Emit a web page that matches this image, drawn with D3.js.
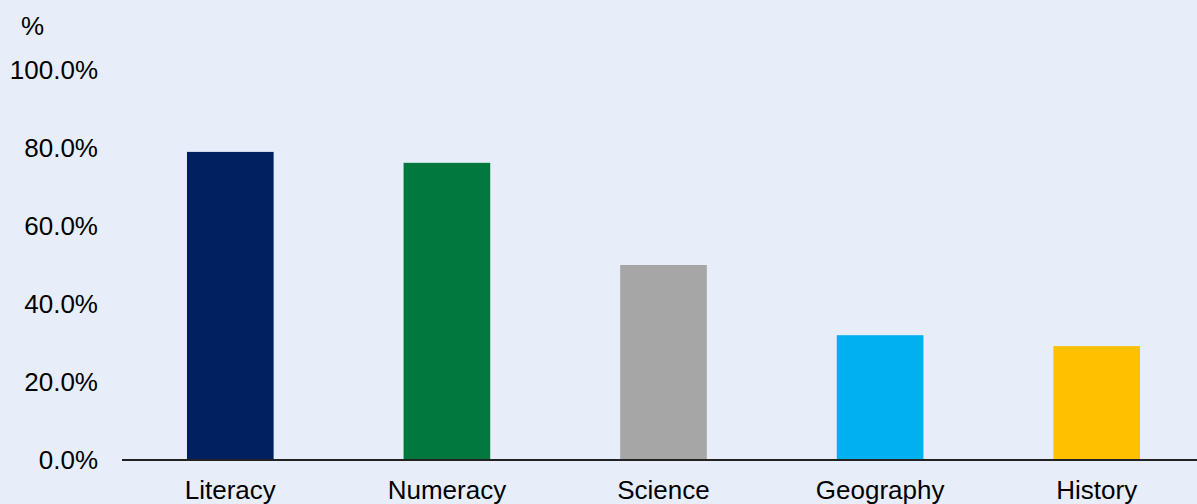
<!DOCTYPE html>
<html>
<head>
<meta charset="utf-8">
<script src="https://cdn.jsdelivr.net/npm/d3@7"></script>
<style>
  html, body { margin: 0; padding: 0; background: #E7EEFA; }
  svg { display: block; font-family: "Liberation Sans", Arial, sans-serif; }
</style>
</head>
<body>
<svg id="chart" width="1197" height="504"></svg>
<script>
// Share of pupils by subject (%)
const categories = ["Literacy", "Numeracy", "Science", "Geography", "History"];
const values = [79.0, 76.2, 50.0, 32.0, 29.2];
const colors = ["#002060", "#00783E", "#A6A6A6", "#00B0F0", "#FFC000"];
const yTicks = [0, 20, 40, 60, 80, 100];

const width = 1197, height = 504;
const margin = { top: 70, right: -8, bottom: 44, left: 122 };
const fontSize = 26;

const svg = d3.select("#chart");
svg.append("rect").attr("width", width).attr("height", height).attr("fill", "#E7EEFA");

const x = d3.scaleBand()
  .domain(categories)
  .range([margin.left, width - margin.right])
  .paddingInner(0.6)
  .paddingOuter(0.3);

const y = d3.scaleLinear()
  .domain([0, 100])
  .range([height - margin.bottom, margin.top]);

// Bars
svg.append("g")
  .selectAll("rect")
  .data(categories)
  .join("rect")
  .attr("x", d => x(d))
  .attr("width", x.bandwidth())
  .attr("y", (d, i) => y(values[i]))
  .attr("height", (d, i) => y(0) - y(values[i]))
  .attr("fill", (d, i) => colors[i]);

// Y axis labels (no axis line)
const yAxis = d3.axisLeft(y)
  .tickValues(yTicks)
  .tickSize(0)
  .tickPadding(0)
  .tickFormat(d => d3.format(".1f")(d) + "%");

svg.append("g")
  .attr("transform", "translate(98,0)")
  .call(yAxis)
  .call(g => g.select(".domain").remove())
  .call(g => g.selectAll("text")
    .attr("font-size", fontSize)
    .attr("font-family", "Liberation Sans, Arial, sans-serif")
    .attr("fill", "#000"));

// Unit label
svg.append("text")
  .attr("x", 21)
  .attr("y", 35)
  .attr("font-size", fontSize)
  .attr("fill", "#000")
  .text("%");

// X axis with category labels
const xAxis = d3.axisBottom(x).tickSize(0).tickPadding(21);
svg.append("g")
  .attr("transform", `translate(0,${y(0)})`)
  .call(xAxis)
  .call(g => g.select(".domain")
    .attr("stroke", "#222")
    .attr("stroke-width", 2)
    .attr("d", `M${margin.left},0H${width}`))
  .call(g => g.selectAll("text")
    .attr("font-size", fontSize)
    .attr("font-family", "Liberation Sans, Arial, sans-serif")
    .attr("fill", "#000"));
</script>
</body>
</html>
